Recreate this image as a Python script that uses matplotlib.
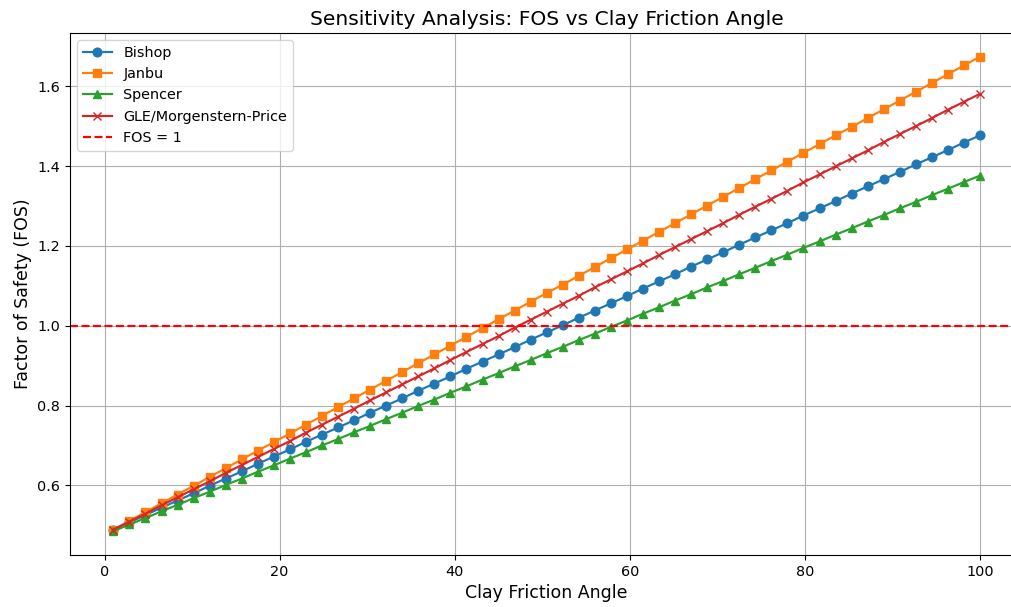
import matplotlib
matplotlib.use("Agg")
import matplotlib.pyplot as plt

# clay friction angle (x) and factor of safety
friction_angle = [
    1.00, 2.83, 4.67, 6.50, 8.33, 10.17, 12.00, 13.83, 15.67, 17.50,
    19.33, 21.17, 23.00, 24.83, 26.67, 28.50, 30.33, 32.17, 34.00, 35.83,
    37.67, 39.50, 41.33, 43.17, 45.00, 46.83, 48.67, 50.50, 52.33, 54.17,
    56.00, 57.83, 59.67, 61.50, 63.33, 65.17, 67.00, 68.83, 70.67, 72.50,
    74.33, 76.17, 78.00, 79.83, 81.67, 83.50, 85.33, 87.17, 89.00, 90.83,
    92.67, 94.50, 96.33, 98.17, 100.00,
]

bishop = [
    0.489, 0.507, 0.526, 0.544, 0.562, 0.580, 0.599, 0.617, 0.635, 0.654,
    0.672, 0.690, 0.709, 0.727, 0.745, 0.763, 0.782, 0.800, 0.818, 0.837,
    0.855, 0.873, 0.892, 0.910, 0.928, 0.946, 0.965, 0.983, 1.001, 1.020,
    1.038, 1.056, 1.074, 1.093, 1.111, 1.129, 1.148, 1.166, 1.184, 1.203,
    1.221, 1.239, 1.257, 1.276, 1.294, 1.312, 1.331, 1.349, 1.367, 1.385,
    1.404, 1.422, 1.440, 1.459, 1.477,
]

janbu = [
    0.489, 0.511, 0.533, 0.555, 0.577, 0.599, 0.621, 0.643, 0.665, 0.687,
    0.708, 0.730, 0.752, 0.774, 0.796, 0.818, 0.840, 0.862, 0.884, 0.906,
    0.928, 0.950, 0.972, 0.994, 1.016, 1.038, 1.060, 1.082, 1.103, 1.125,
    1.147, 1.169, 1.191, 1.213, 1.235, 1.257, 1.279, 1.301, 1.323, 1.345,
    1.367, 1.389, 1.411, 1.433, 1.455, 1.477, 1.498, 1.520, 1.542, 1.564,
    1.586, 1.608, 1.630, 1.652, 1.674,
]

spencer = [
    0.485, 0.502, 0.518, 0.535, 0.551, 0.568, 0.584, 0.601, 0.617, 0.634,
    0.650, 0.667, 0.683, 0.700, 0.716, 0.733, 0.749, 0.766, 0.782, 0.799,
    0.815, 0.832, 0.848, 0.865, 0.881, 0.898, 0.914, 0.931, 0.947, 0.964,
    0.980, 0.997, 1.013, 1.030, 1.046, 1.063, 1.079, 1.096, 1.112, 1.129,
    1.145, 1.162, 1.178, 1.195, 1.211, 1.228, 1.244, 1.261, 1.277, 1.294,
    1.310, 1.327, 1.343, 1.360, 1.376,
]

gle = [
    0.489, 0.509, 0.529, 0.550, 0.570, 0.590, 0.610, 0.631, 0.651, 0.671,
    0.691, 0.711, 0.732, 0.752, 0.772, 0.792, 0.813, 0.833, 0.853, 0.873,
    0.893, 0.914, 0.934, 0.954, 0.974, 0.995, 1.015, 1.035, 1.055, 1.075,
    1.096, 1.116, 1.136, 1.156, 1.177, 1.197, 1.217, 1.237, 1.257, 1.278,
    1.298, 1.318, 1.338, 1.359, 1.379, 1.399, 1.419, 1.439, 1.460, 1.480,
    1.500, 1.520, 1.541, 1.561, 1.581,
]

# the reference looks rendered ~4% larger than default sizes
scale = 1.04
plt.rcParams["font.size"] = 10 * scale
plt.rcParams["lines.linewidth"] = 1.5 * scale
plt.rcParams["lines.markersize"] = 6 * scale

fig = plt.figure(figsize=(10.12, 6.07), dpi=100)
# the reference is cropped on the right, so the axes runs past the edge
ax = fig.add_axes([0.0692, 0.0857, 0.942, 0.860])

ax.plot(friction_angle, bishop, marker="o", label="Bishop")
ax.plot(friction_angle, janbu, marker="s", label="Janbu")
ax.plot(friction_angle, spencer, marker="^", label="Spencer")
ax.plot(friction_angle, gle, marker="x", label="GLE/Morgenstern-Price")
ax.axhline(1.0, color="r", linestyle="--", label="FOS = 1")

ax.set_xlabel("Clay Friction Angle", fontsize=12 * scale)
ax.set_ylabel("Factor of Safety (FOS)", fontsize=12 * scale)
ax.set_title("Sensitivity Analysis: FOS vs Clay Friction Angle", fontsize=14 * scale)
ax.legend(loc="upper left")
ax.grid(True)
ax.spines["right"].set_visible(False)

fig.savefig("out.png", dpi=100)
